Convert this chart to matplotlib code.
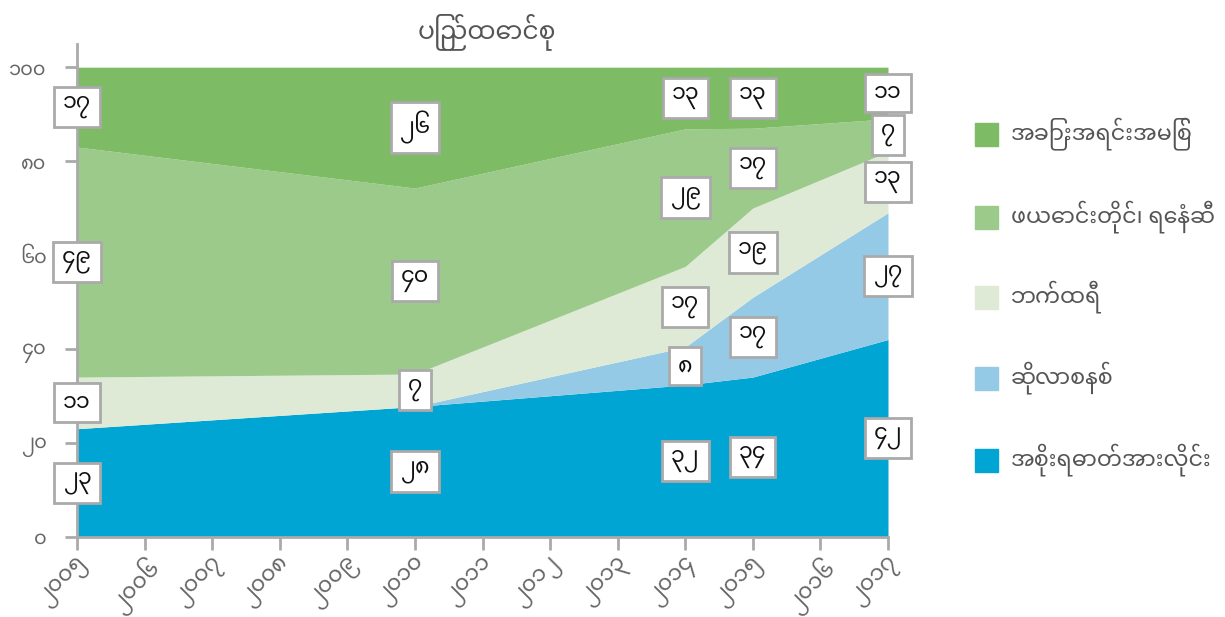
import matplotlib
matplotlib.use("Agg")
import matplotlib.pyplot as plt
from matplotlib.patches import Rectangle
import numpy as np

plt.rcParams['font.family'] = ['Noto Sans Myanmar', 'DejaVu Sans']

title = "ပြည်ထောင်စု"
years = [2005, 2010, 2014, 2015, 2017]
tick_years = list(range(2005, 2018))

# bottom to top
names = ["အစိုးရဓာတ်အားလိုင်း", "ဆိုလာစနစ်", "ဘက်ထရီ",
         "ဖယောင်းတိုင်၊ ရေနံဆီ", "အခြားအရင်းအမြစ်"]
grid = [23, 28, 32, 34, 42]
solar = [0, 0, 8, 17, 27]
battery = [11, 7, 17, 19, 13]
candle = [49, 40, 29, 17, 7]
other = [17, 26, 13, 13, 11]
colors = ["#00a5d3", "#94cae6", "#deead6", "#9bca8a", "#7dbb64"]

MM = str.maketrans("0123456789", "၀၁၂၃၄၅၆၇၈၉")


def mm(n):
    return str(n).translate(MM)


series = np.array([grid, solar, battery, candle, other], dtype=float)
pct = series / series.sum(axis=0) * 100  # percent stacking
tops = np.cumsum(pct, axis=0)
bottoms = tops - pct

fig = plt.figure(figsize=(12.25, 6.17), dpi=100)
ax = fig.add_axes([77 / 1225, 80.3 / 617, (888 - 77) / 1225, 493 / 617])

for i in range(5):
    ax.fill_between(years, bottoms[i], tops[i], color=colors[i], lw=0)

for i in range(5):
    for j, yr in enumerate(years):
        if series[i, j] == 0:
            continue
        ax.text(yr, (bottoms[i, j] + tops[i, j]) / 2, mm(int(series[i, j])),
                ha="center", va="center", fontsize=16, color="#111111",
                bbox=dict(boxstyle="square,pad=0.4", fc="white",
                          ec="#aaaaaa", lw=2), zorder=5)

ax.set_xlim(2005, 2017)
ax.set_ylim(0, 105)
ax.set_yticks([0, 20, 40, 60, 80, 100])
ax.set_yticklabels([mm(v) for v in [0, 20, 40, 60, 80, 100]])
ax.set_xticks(tick_years)
ax.set_xticklabels([mm(y) for y in tick_years], rotation=45, ha="right",
                   rotation_mode="anchor")
ax.tick_params(axis="both", colors="#aaaaaa", labelcolor="#666666",
               labelsize=16, length=9, width=2)
ax.tick_params(axis="x", pad=3)
ax.tick_params(axis="y", pad=13, labelsize=14)
for s in ["top", "right"]:
    ax.spines[s].set_visible(False)
for s in ["left", "bottom"]:
    ax.spines[s].set_color("#aaaaaa")
    ax.spines[s].set_linewidth(2)

fig.text(487 / 1225, 1 - 32 / 617, title, ha="center", va="center",
         fontsize=18, color="#555555")

# legend, top entry first
leg_y = [134, 217, 297, 378, 460]
for k, i in enumerate(range(4, -1, -1)):
    y = 1 - leg_y[k] / 617
    fig.patches.append(Rectangle((975 / 1225, y - 11.5 / 617), 23 / 1225, 23 / 617,
                                 transform=fig.transFigure, color=colors[i]))
    fig.text(1011 / 1225, y, names[i], ha="left", va="center",
             fontsize=16, color="#555555")

fig.savefig("out.png")
